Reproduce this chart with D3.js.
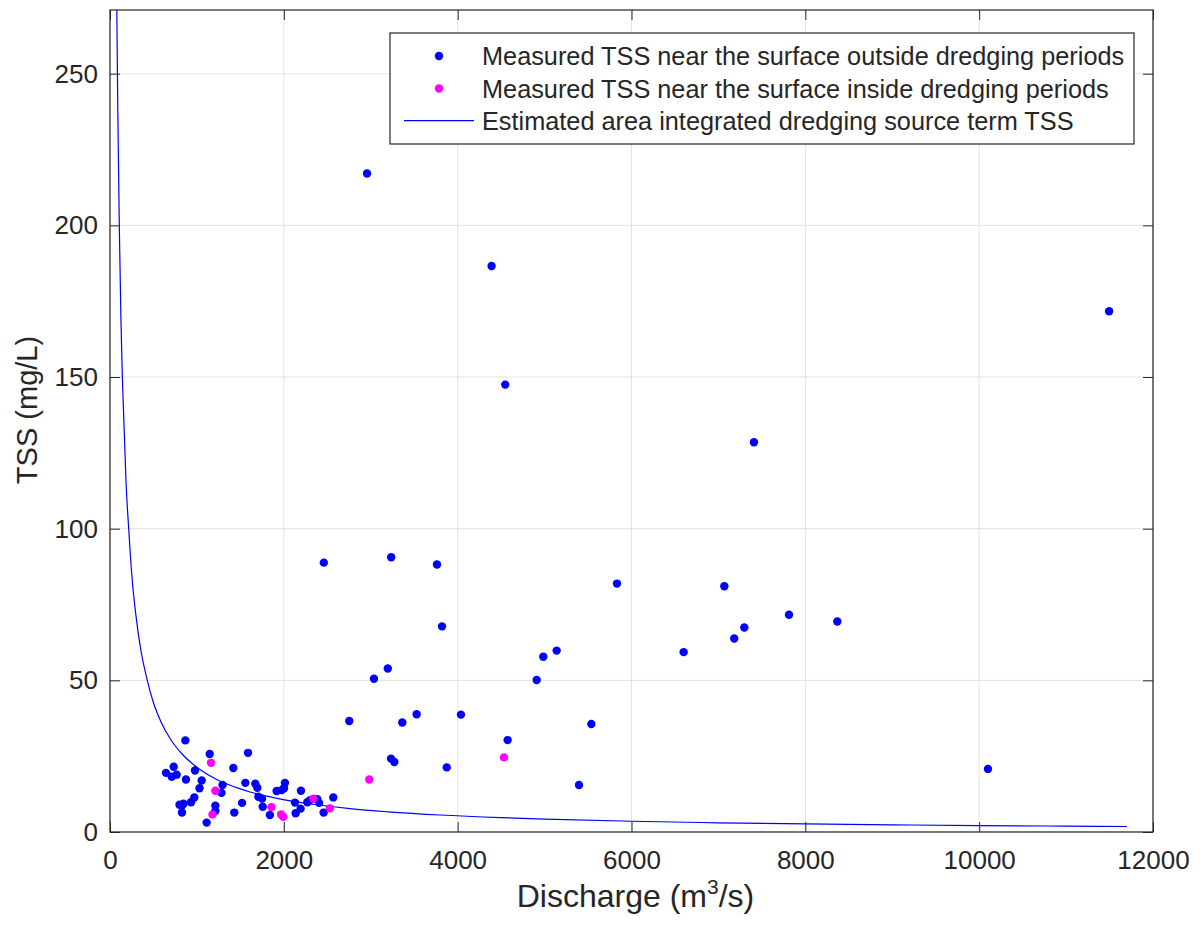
<!DOCTYPE html>
<html>
<head>
<meta charset="utf-8">
<script src="https://cdn.jsdelivr.net/npm/d3@7"></script>
<style>
  html, body { margin: 0; padding: 0; background: #fff; }
  svg { display: block; font-family: "Liberation Sans", Arial, Helvetica, sans-serif; }
</style>
</head>
<body>
<svg id="chart" width="1202" height="936"></svg>
<script>
// Measured TSS near the surface outside dredging periods: discharge (m3/s), TSS (mg/L)
const outsideQ = [867, 1147, 1588, 733, 644, 710, 767, 874, 978, 1055, 1030, 970, 932, 800, 828, 846, 828,
  1419, 1295, 1283, 1212, 1212, 1112, 1430, 1519, 1557, 1672, 1695, 1707, 1749, 1757, 1840, 1917, 1975,
  2013, 2002, 2197, 2128, 2136, 2193, 2270, 2301, 2385, 2405, 2458, 2569,
  2957, 4390, 4547, 11495, 7409, 2460, 3235, 3762, 3820, 3196, 3037, 2753, 3363, 3528, 4038, 3233, 3271,
  3874, 4575, 4909, 4985, 5139, 5538, 5396, 5833, 6600, 7068, 7182, 7298, 7812, 8368, 10101];
const outsideTSS = [30.2, 25.7, 26.1, 21.5, 19.5, 18.2, 18.9, 17.3, 20.3, 17.0, 14.4, 11.4, 9.8, 9.0, 8.7, 9.3, 6.4,
  21.1, 15.5, 12.9, 8.7, 6.9, 3.1, 6.4, 9.6, 16.2, 15.9, 14.6, 11.6, 11.0, 8.3, 5.6, 13.5, 13.8,
  16.2, 14.4, 13.6, 9.7, 6.2, 7.7, 9.8, 10.5, 10.8, 9.6, 6.4, 11.4,
  217.1, 186.6, 147.5, 171.7, 128.5, 88.8, 90.6, 88.2, 67.8, 53.9, 50.5, 36.6, 36.1, 38.8, 38.7, 24.2, 23.1,
  21.3, 30.3, 50.1, 57.8, 59.8, 35.6, 15.5, 81.9, 59.3, 81.0, 63.8, 67.4, 71.6, 69.4, 20.8];

// Measured TSS near the surface inside dredging periods
const insideQ = [1162, 1212, 1179, 1858, 1968, 1994, 2339, 2529, 2983, 4533];
const insideTSS = [22.8, 13.6, 5.8, 8.2, 5.8, 5.0, 11.0, 7.8, 17.3, 24.6];

// Estimated area integrated dredging source term TSS
const sourceQ = [72, 80, 90, 107, 125, 142, 161, 185, 215, 253, 300, 349, 429, 500, 590, 700, 843, 1035,
  1228, 1450, 1611, 1994, 2400, 2761, 3200, 3797, 4500, 5000, 6000, 7000, 8000, 9000, 10000, 11000, 11700];
const sourceTSS = [296, 266, 237, 200, 170, 150, 134.5, 115, 100, 84, 71, 61, 50, 42.6, 36.1, 30.4, 25.3, 20.6,
  17.3, 14.7, 13.2, 10.7, 8.9, 7.7, 6.66, 5.6, 4.73, 4.26, 3.55, 3.04, 2.66, 2.37, 2.13, 1.94, 1.82];

const xTicks = [0, 2000, 4000, 6000, 8000, 10000, 12000];
const yTicks = [0, 50, 100, 150, 200, 250];

const legendLabels = [
  "Measured TSS near the surface outside dredging periods",
  "Measured TSS near the surface inside dredging periods",
  "Estimated area integrated dredging source term TSS"
];

const BLUE = "#0000ff", MAGENTA = "#ff00ff", AXIS = "#262626", GRID = "#e3e3e3";

const svg = d3.select("#chart");
const L = 110, R = 1153, T = 10, B = 832;

const x = d3.scaleLinear().domain([0, 12000]).range([L, R]);
const y = d3.scaleLinear().domain([0, 271]).range([B, T]);

svg.append("defs").append("clipPath").attr("id", "plotClip")
  .append("rect").attr("x", L).attr("y", T).attr("width", R - L).attr("height", B - T);

// grid
const grid = svg.append("g");
grid.selectAll("line.gx").data(xTicks).join("line")
  .attr("x1", d => x(d)).attr("x2", d => x(d)).attr("y1", T).attr("y2", B)
  .attr("stroke", GRID).attr("stroke-width", 1);
grid.selectAll("line.gy").data(yTicks).join("line")
  .attr("y1", d => y(d)).attr("y2", d => y(d)).attr("x1", L).attr("x2", R)
  .attr("stroke", GRID).attr("stroke-width", 1);

const plot = svg.append("g").attr("clip-path", "url(#plotClip)");

// source term curve
const curvePts = sourceQ.map((q, i) => [q, sourceTSS[i]]);
plot.append("path")
  .datum(curvePts)
  .attr("fill", "none").attr("stroke", BLUE).attr("stroke-width", 1.2)
  .attr("d", d3.line().x(d => x(d[0])).y(d => y(d[1])).curve(d3.curveMonotoneX));

// measurements
plot.selectAll("circle.out").data(outsideQ.map((q, i) => [q, outsideTSS[i]])).join("circle")
  .attr("cx", d => x(d[0])).attr("cy", d => y(d[1])).attr("r", 4.2).attr("fill", BLUE);
plot.selectAll("circle.in").data(insideQ.map((q, i) => [q, insideTSS[i]])).join("circle")
  .attr("cx", d => x(d[0])).attr("cy", d => y(d[1])).attr("r", 4.2).attr("fill", MAGENTA);

// axes
const fmt = d3.format("d");
const axB = svg.append("g").attr("transform", `translate(0,${B})`)
  .call(d3.axisBottom(x).tickValues(xTicks).tickFormat(fmt).tickSize(-10).tickPadding(19));
const axL = svg.append("g").attr("transform", `translate(${L},0)`)
  .call(d3.axisLeft(y).tickValues(yTicks).tickFormat(fmt).tickSize(-10).tickPadding(12));
const axT = svg.append("g").attr("transform", `translate(0,${T})`)
  .call(d3.axisTop(x).tickValues(xTicks).tickFormat("").tickSize(-10));
const axR = svg.append("g").attr("transform", `translate(${R},0)`)
  .call(d3.axisRight(y).tickValues(yTicks).tickFormat("").tickSize(-10));

[axB, axL, axT, axR].forEach(g => {
  g.select(".domain").remove();
  g.selectAll(".tick line").attr("stroke", AXIS).attr("stroke-width", 1);
  g.selectAll(".tick text").attr("fill", AXIS).attr("font-size", 26)
    .attr("font-family", "Liberation Sans, Arial, sans-serif");
});

svg.append("rect").attr("x", L).attr("y", T).attr("width", R - L).attr("height", B - T)
  .attr("fill", "none").attr("stroke", AXIS).attr("stroke-width", 1.2);

// axis labels
const xl = svg.append("text").attr("x", (L + R) / 2 + 4).attr("y", 907)
  .attr("text-anchor", "middle").attr("font-size", 32).attr("fill", AXIS);
xl.append("tspan").text("Discharge (m");
xl.append("tspan").text("3").attr("font-size", 21).attr("dy", -13);
xl.append("tspan").text("/s)").attr("dy", 13);

svg.append("text")
  .attr("transform", `translate(37,410) rotate(-90)`)
  .attr("text-anchor", "middle").attr("font-size", 29).attr("fill", AXIS)
  .text("TSS (mg/L)");

// legend
const lg = svg.append("g");
lg.append("rect").attr("x", 390).attr("y", 33).attr("width", 744).attr("height", 111)
  .attr("fill", "#fff").attr("stroke", AXIS).attr("stroke-width", 1.2);
const rowY = [56, 88.5, 120.7];
lg.append("circle").attr("cx", 439).attr("cy", rowY[0]).attr("r", 4.2).attr("fill", BLUE);
lg.append("circle").attr("cx", 439).attr("cy", rowY[1]).attr("r", 4.2).attr("fill", MAGENTA);
lg.append("line").attr("x1", 404).attr("x2", 474).attr("y1", rowY[2]).attr("y2", rowY[2])
  .attr("stroke", BLUE).attr("stroke-width", 1.2);
lg.selectAll("text").data(legendLabels).join("text")
  .attr("x", 482).attr("y", (d, i) => rowY[i] + 9)
  .attr("font-size", 25.3).attr("fill", AXIS).text(d => d);
</script>
</body>
</html>
